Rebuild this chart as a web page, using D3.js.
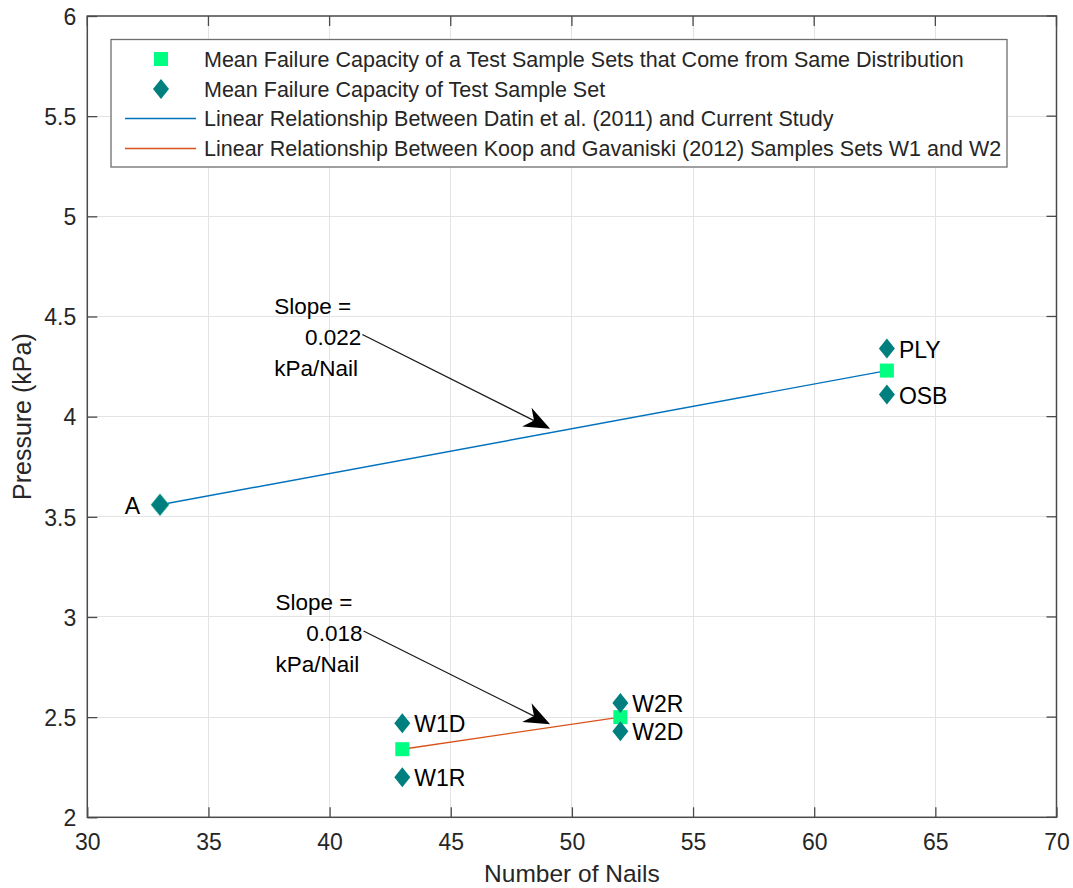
<!DOCTYPE html>
<html>
<head>
<meta charset="utf-8">
<script src="https://cdn.jsdelivr.net/npm/d3@7"></script>
<style>
  html, body { margin: 0; padding: 0; background: #fff; }
  svg { display: block; font-family: "Liberation Sans", Arial, Helvetica, sans-serif; }
</style>
</head>
<body>
<svg id="chart" width="1073" height="888"></svg>
<script>
// Mean failure capacity of sheathing panels vs. number of nails
const xTicks = [30, 35, 40, 45, 50, 55, 60, 65, 70];
const yTicks = [2, 2.5, 3, 3.5, 4, 4.5, 5, 5.5, 6];
const yTickLabels = ["2", "2.5", "3", "3.5", "4", "4.5", "5", "5.5", "6"];

// Individual test sample sets (diamonds)
const setLabels = ["A", "PLY", "OSB", "W1D", "W1R", "W2R", "W2D"];
const setNails = [33, 63, 63, 43, 43, 52, 52];
const setPressure = [3.56, 4.34, 4.11, 2.47, 2.20, 2.57, 2.43];

// Pooled sample sets from the same distribution (squares)
const poolNails = [63, 43, 52];
const poolPressure = [4.23, 2.34, 2.50];

// Linear relationships
const datinNails = [33, 63];
const datinPressure = [3.56, 4.23];
const koopNails = [43, 52];
const koopPressure = [2.34, 2.50];

// Slope annotations
const slopeText = ["0.022", "0.018"];
const arrowFromNails = [41.35, 41.4];
const arrowFromPressure = [4.41, 2.93];
const arrowToNails = [49.1, 49.1];
const arrowToPressure = [3.94, 2.465];

const legendLabels = [
  "Mean Failure Capacity of a Test Sample Sets that Come from Same Distribution",
  "Mean Failure Capacity of Test Sample Set",
  "Linear Relationship Between Datin et al. (2011) and Current Study",
  "Linear Relationship Between Koop and Gavaniski (2012) Samples Sets W1 and W2"
];

const colSquare = "#00ff80";
const colDiamond = "#007f7f";
const colBlue = "#0072bd";
const colOrange = "#d95319";
const axisCol = "#4a4a4a";
const textCol = "#262626";
const gridCol = "#e3e3e3";

const svg = d3.select("#chart");
const L = 87.3, R = 1056.5, T = 16, B = 817.3;

const x = d3.scaleLinear().domain([30, 70]).range([L, R]);
const y = d3.scaleLinear().domain([2, 6]).range([B, T]);

// grid
const grid = svg.append("g");
grid.selectAll("line.gx").data(xTicks.slice(1, -1)).join("line")
  .attr("x1", d => x(d)).attr("x2", d => x(d)).attr("y1", T).attr("y2", B)
  .attr("stroke", gridCol).attr("stroke-width", 1).attr("shape-rendering", "crispEdges");
grid.selectAll("line.gy").data(yTicks.slice(1, -1)).join("line")
  .attr("y1", d => y(d)).attr("y2", d => y(d)).attr("x1", L).attr("x2", R)
  .attr("stroke", gridCol).attr("stroke-width", 1).attr("shape-rendering", "crispEdges");

// axes (ticks inside, box on)
const xAxis = d3.axisBottom(x).tickValues(xTicks).tickSizeInner(-10).tickSizeOuter(0).tickPadding(16);
const yAxis = d3.axisLeft(y).tickValues(yTicks).tickFormat((d, i) => yTickLabels[i]).tickSizeInner(-10).tickSizeOuter(0).tickPadding(11);

const gx = svg.append("g").attr("transform", `translate(0,${B})`).call(xAxis);
const gy = svg.append("g").attr("transform", `translate(${L},0)`).call(yAxis);
[gx, gy].forEach(g => {
  g.select(".domain").remove();
  g.selectAll(".tick line").attr("stroke", axisCol).attr("stroke-width", 1.3);
  g.selectAll(".tick text").attr("fill", textCol).attr("font-size", 23)
    .attr("font-family", "'Liberation Sans', Arial, sans-serif");
});
gx.selectAll(".tick text").attr("dy", "0.71em");
gy.selectAll(".tick text").attr("dy", "0.36em");

// top/right ticks mirrored
const mirror = svg.append("g");
mirror.selectAll("line.tx").data(xTicks).join("line")
  .attr("x1", d => x(d)).attr("x2", d => x(d)).attr("y1", T).attr("y2", T + 10)
  .attr("stroke", axisCol).attr("stroke-width", 1.3);
mirror.selectAll("line.ry").data(yTicks).join("line")
  .attr("y1", d => y(d)).attr("y2", d => y(d)).attr("x1", R).attr("x2", R - 10)
  .attr("stroke", axisCol).attr("stroke-width", 1.3);

svg.append("rect").attr("x", L).attr("y", T).attr("width", R - L).attr("height", B - T)
  .attr("fill", "none").attr("stroke", axisCol).attr("stroke-width", 1.5);

// axis titles
svg.append("text").attr("x", (L + R) / 2).attr("y", 882)
  .attr("text-anchor", "middle").attr("font-size", 24.5).attr("fill", textCol)
  .text("Number of Nails");
svg.append("text")
  .attr("transform", `translate(31,${(T + B) / 2}) rotate(-90)`)
  .attr("text-anchor", "middle").attr("font-size", 25).attr("fill", textCol)
  .text("Pressure (kPa)");

// relationship lines
const line = d3.line().x(d => x(d[0])).y(d => y(d[1]));
svg.append("path").datum(d3.zip(datinNails, datinPressure)).attr("d", line)
  .attr("fill", "none").attr("stroke", colBlue).attr("stroke-width", 1.4);
svg.append("path").datum(d3.zip(koopNails, koopPressure)).attr("d", line)
  .attr("fill", "none").attr("stroke", colOrange).attr("stroke-width", 1.4);

// markers
const diamond = (cx, cy, w, h) => `M${cx},${cy - h / 2}L${cx + w / 2},${cy}L${cx},${cy + h / 2}L${cx - w / 2},${cy}Z`;
const sq = 14;

svg.append("g").selectAll("rect").data(d3.zip(poolNails, poolPressure)).join("rect")
  .attr("x", d => x(d[0]) - sq / 2).attr("y", d => y(d[1]) - sq / 2)
  .attr("width", sq).attr("height", sq).attr("fill", colSquare);

svg.append("g").selectAll("path").data(d3.zip(setNails, setPressure)).join("path")
  .attr("d", (d, i) => i === 0 ? diamond(x(d[0]), y(d[1]), 18, 22) : diamond(x(d[0]), y(d[1]), 16, 20))
  .attr("fill", colDiamond)
  .attr("stroke", (d, i) => i === 0 ? "#3fbf9a" : "none").attr("stroke-width", 0.6);

// sample set labels
svg.append("g").selectAll("text").data(setLabels).join("text")
  .attr("x", (d, i) => i === 0 ? x(setNails[i]) - 20 : x(setNails[i]) + 12)
  .attr("y", (d, i) => y(setPressure[i]) + 9)
  .attr("text-anchor", (d, i) => i === 0 ? "end" : "start")
  .attr("font-size", 23).attr("fill", "#000")
  .text(d => d);

// slope annotations with arrows
slopeText.forEach((s, i) => {
  const x0 = x(arrowFromNails[i]), y0 = y(arrowFromPressure[i]);
  const x1 = x(arrowToNails[i]), y1 = y(arrowToPressure[i]);
  const ang = Math.atan2(y1 - y0, x1 - x0);
  const len = 26, half = 10.5, notch = 18;
  const ux = Math.cos(ang), uy = Math.sin(ang), px = -uy, py = ux;
  svg.append("line").attr("x1", x0).attr("y1", y0)
    .attr("x2", x1 - ux * notch).attr("y2", y1 - uy * notch)
    .attr("stroke", "#1a1a1a").attr("stroke-width", 1.3);
  const head = [
    [x1, y1],
    [x1 - ux * len + px * half, y1 - uy * len + py * half],
    [x1 - ux * notch, y1 - uy * notch],
    [x1 - ux * len - px * half, y1 - uy * len - py * half]
  ];
  svg.append("path").attr("d", "M" + head.map(p => p.join(",")).join("L") + "Z").attr("fill", "#000");

  const g = svg.append("g").attr("font-size", 22.5).attr("fill", "#000");
  g.append("text").attr("x", x0 - 88).attr("y", y0 - 21).text("Slope =");
  g.append("text").attr("x", x0 - 1).attr("y", y0 + 10).attr("text-anchor", "end").text(s);
  g.append("text").attr("x", x0 - 88).attr("y", y0 + 41).text("kPa/Nail");
});

// legend
const lg = svg.append("g");
lg.append("rect").attr("x", 111).attr("y", 39.5).attr("width", 896).attr("height", 127.5)
  .attr("fill", "#fff").attr("stroke", "#6e6e6e").attr("stroke-width", 1.3);
const rowY = [59, 89, 118.5, 148.5];
lg.append("rect").attr("x", 161 - sq / 2).attr("y", rowY[0] - sq / 2).attr("width", sq).attr("height", sq).attr("fill", colSquare);
lg.append("path").attr("d", diamond(161, rowY[1], 16, 20)).attr("fill", colDiamond);
lg.append("line").attr("x1", 125).attr("x2", 196).attr("y1", rowY[2]).attr("y2", rowY[2]).attr("stroke", colBlue).attr("stroke-width", 1.4);
lg.append("line").attr("x1", 125).attr("x2", 196).attr("y1", rowY[3]).attr("y2", rowY[3]).attr("stroke", colOrange).attr("stroke-width", 1.4);
lg.selectAll("text").data(legendLabels).join("text")
  .attr("x", 204).attr("y", (d, i) => rowY[i] + 7.5)
  .attr("font-size", 21.5).attr("fill", textCol)
  .text(d => d);
</script>
</body>
</html>
